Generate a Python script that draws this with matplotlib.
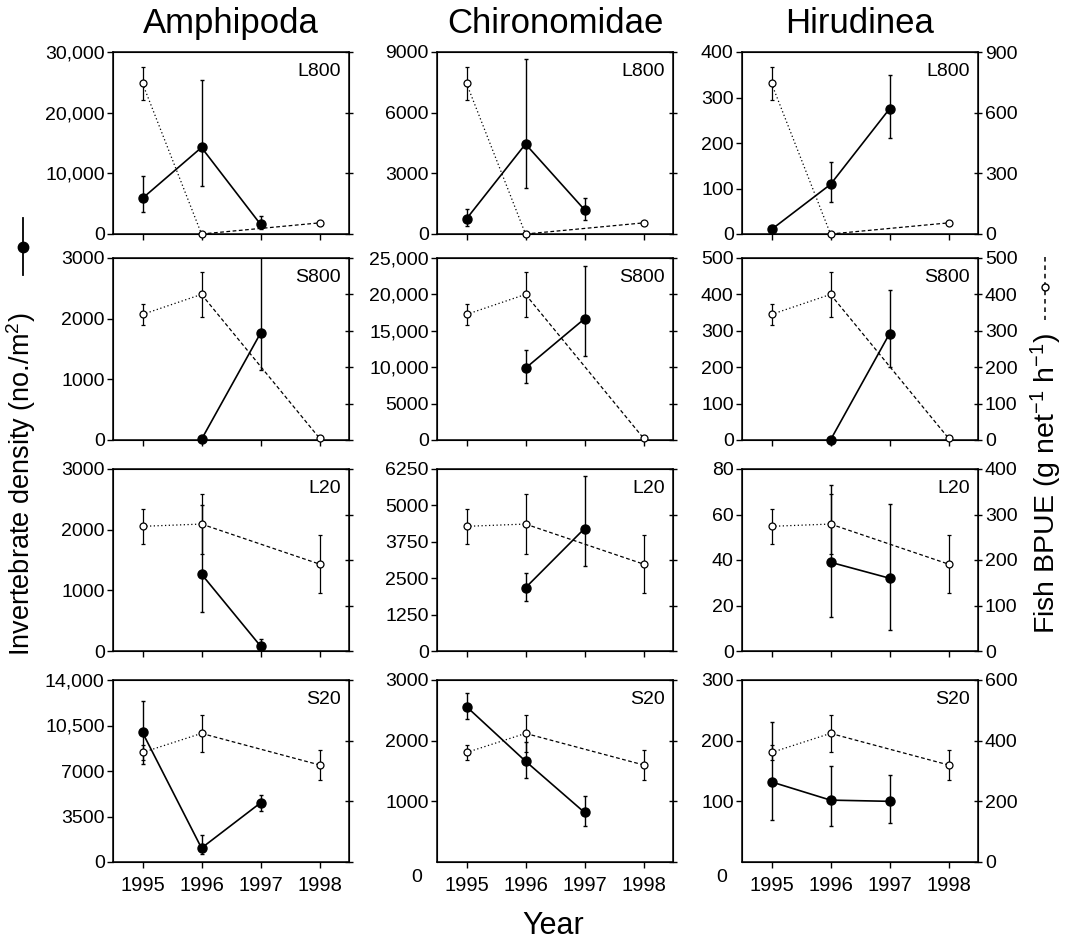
import numpy as np
import matplotlib
matplotlib.use("Agg")
import matplotlib.pyplot as plt
from matplotlib.lines import Line2D

plt.rcParams['font.family'] = ['Liberation Sans', 'DejaVu Sans']
plt.rcParams['mathtext.fontset'] = 'custom'
plt.rcParams['mathtext.rm'] = 'Liberation Sans'
plt.rcParams['mathtext.it'] = 'Liberation Sans:italic'

nan = np.nan
years = [1995, 1996, 1997, 1998]
taxa = ["Amphipoda", "Chironomidae", "Hirudinea"]
sites = ["L800", "S800", "L20", "S20"]

# Invertebrate density (rows = sites L800, S800, L20, S20)
amph_mean = [[5890, 14260, 1600, nan], [nan, 10, 1760, nan],
             [nan, 1267, 82, nan], [9964, 1073, 4547, nan]]
amph_lo = [[2310, 6280, 770, 0], [0, 0, 600, 0], [0, 620, 82, 0], [2450, 483, 638, 0]]
amph_hi = [[3630, 11060, 1320, 0], [0, 0, 1740, 0], [0, 1146, 110, 0], [2452, 997, 588, 0]]

chir_mean = [[750, 4450, 1200, nan], [nan, 9862, 16651, nan],
             [nan, 2171, 4205, nan], [2561, 1662, 817, nan]]
chir_lo = [[367, 2167, 500, 0], [0, 2064, 5045, 0], [0, 446, 1292, 0], [203, 280, 219, 0]]
chir_hi = [[500, 4220, 583, 0], [0, 2477, 7202, 0], [0, 491, 1793, 0], [219, 323, 274, 0]]

hiru_mean = [[10, 109, 275, nan], [nan, 0, 292, nan],
             [nan, 39, 32, nan], [132, 102, 100, nan]]
hiru_lo = [[5, 38, 63, 0], [0, 0, 92, 0], [0, 24, 22.6, 0], [63, 42, 35, 0]]
hiru_hi = [[5, 50, 75, 0], [0, 0, 121, 0], [0, 33.8, 32.6, 0], [99, 56, 44, 0]]

# Fish BPUE (g net-1 h-1)
fish_mean = [[745, 0, nan, 55], [345, 400, nan, 5], [274, 279, nan, 191], [361, 424, nan, 320]]
fish_err = [[82, 0, 0, 0], [28, 61, 0, 0], [38, 65, 0, 64], [24, 62, 0, 49]]

# Axis ranges
left_max = [[30000, 9000, 400], [3000, 25000, 500], [3000, 6250, 80], [14000, 3000, 300]]
left_step = [[10000, 3000, 100], [1000, 5000, 100], [1000, 1250, 20], [3500, 1000, 100]]
right_max = [900, 500, 400, 600]
right_step = [300, 100, 100, 200]
zero_below = [[False, False, False], [False, False, False],
              [False, False, False], [False, True, True]]

means = [amph_mean, chir_mean, hiru_mean]
los = [amph_lo, chir_lo, hiru_lo]
his = [amph_hi, chir_hi, hiru_hi]


def fmt(v):
    return f"{v:,.0f}" if v >= 10000 else f"{v:.0f}"


W, H = 1066, 944
fig = plt.figure(figsize=(W / 100, H / 100), dpi=100)
col_left = [113, 437, 742]
col_w = 236
row_top = [52, 258, 469, 680]
row_h = 182

tick_fs = 14
for i, site in enumerate(sites):
    for j, taxon in enumerate(taxa):
        ax = fig.add_axes([col_left[j] / W, 1 - (row_top[i] + row_h) / H, col_w / W, row_h / H])
        ax.set_xlim(1994.5, 1998.5)
        ymax = left_max[i][j]
        ax.set_ylim(0, ymax)
        ticks = list(np.arange(0, ymax + 0.1, left_step[i][j]))
        if zero_below[i][j]:
            ticks = ticks[1:]
            ax.text(-0.085, -0.085, "0", transform=ax.transAxes, ha='center', va='center',
                    fontsize=tick_fs)
        ax.set_yticks(ticks)
        ax.set_yticklabels([fmt(t) for t in ticks])
        ax.set_xticks(years)
        if i == 3:
            ax.set_xticklabels([str(y) for y in years], fontsize=14.5)
        else:
            ax.set_xticklabels([])
        ax.tick_params(axis='y', direction='out', length=4, width=1, labelsize=tick_fs, pad=2)
        ax.tick_params(axis='x', direction='out', length=4, width=1, pad=6)
        for sp in ax.spines.values():
            sp.set_linewidth(1.1)

        # invertebrates
        m = np.array(means[j][i], dtype=float)
        lo = np.array(los[j][i], dtype=float)
        hi = np.array(his[j][i], dtype=float)
        ax.errorbar(years, m, yerr=[lo, hi], fmt='none', ecolor='black', elinewidth=1,
                    capsize=1.6, capthick=1, zorder=3)
        ax.plot(years, m, '-', color='black', lw=1.2, marker='o', ms=6.5,
                mfc='black', mec='black', clip_on=False, zorder=4)

        ax.text(0.965, 0.895, site, transform=ax.transAxes, ha='right', va='center', fontsize=14)

        # fish
        ax2 = ax.twinx()
        ax2.set_ylim(0, right_max[i])
        rt = list(np.arange(0, right_max[i] + 0.1, right_step[i]))
        ax2.set_yticks(rt)
        if j == 2:
            ax2.set_yticklabels([fmt(t) for t in rt])
        else:
            ax2.set_yticklabels([])
        ax2.tick_params(axis='y', direction='inout', length=6, width=1, labelsize=tick_fs, pad=2)
        f = np.array(fish_mean[i], dtype=float)
        fe = np.array(fish_err[i], dtype=float)
        ax2.errorbar(years, f, yerr=fe, fmt='none', ecolor='black', elinewidth=0.9,
                     capsize=1.6, capthick=0.9, zorder=3)
        ok = ~np.isnan(f)
        fy = np.array(years)[ok]
        fv = f[ok]
        ax2.plot(fy[:2], fv[:2], color='black', lw=0.9, ls=(0, (1, 2)), zorder=2)
        ax2.plot(fy[1:], fv[1:], color='black', lw=0.9, ls=(0, (3, 2)), zorder=2)
        ax2.plot(fy, fv, 'o', ms=5, mfc='white', mec='black', mew=0.9, clip_on=False, zorder=4)

        if i == 0:
            ax.set_title(taxon, fontsize=25, pad=14)

# axis labels
fig.text(553 / W, 1 - 926 / H, "Year", ha='center', va='center', fontsize=22)
fig.text(21 / W, 1 - 484 / H, "Invertebrate density (no./m$^2$)", rotation=90,
         ha='center', va='center', fontsize=19.5)
fig.text(1046 / W, 1 - 483 / H, "Fish BPUE (g net$^{-1}$ h$^{-1}$)", rotation=90,
         ha='center', va='center', fontsize=20.5)

# legend keys next to labels
fig.add_artist(Line2D([23 / W, 23 / W], [1 - 218 / H, 1 - 275 / H], color='black', lw=1.3,
                      transform=fig.transFigure))
fig.add_artist(Line2D([23 / W], [1 - 247 / H], marker='o', ms=7.5, mfc='black', mec='black',
                      transform=fig.transFigure))
fig.add_artist(Line2D([1045 / W, 1045 / W], [1 - 257 / H, 1 - 320 / H], color='black', lw=1.1,
                      ls=(0, (3, 2.5)), transform=fig.transFigure))
fig.add_artist(Line2D([1045 / W], [1 - 287 / H], marker='o', ms=5, mfc='white', mec='black',
                      mew=1, transform=fig.transFigure))

fig.savefig("out.png", dpi=100, facecolor='white')
